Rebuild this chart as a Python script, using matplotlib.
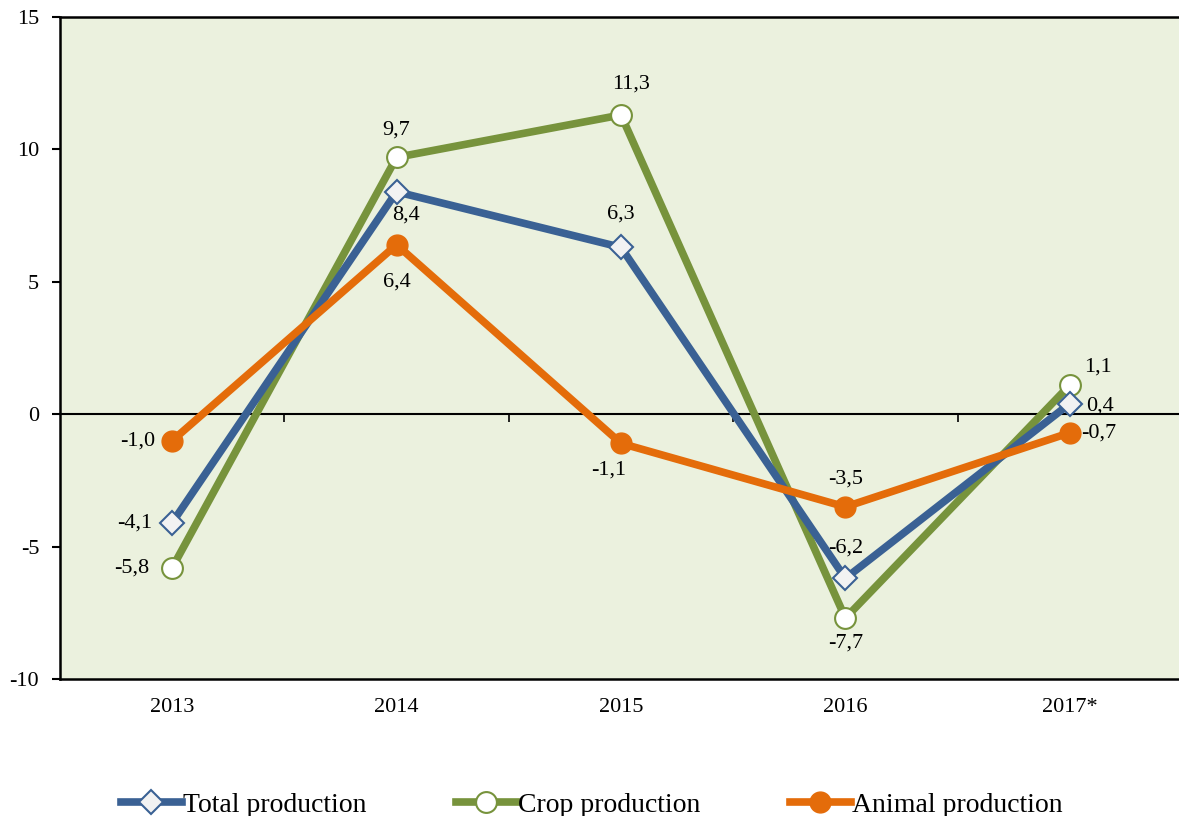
import matplotlib.pyplot as plt

plt.rcParams['font.family'] = ['Liberation Serif', 'DejaVu Serif']
plt.rcParams['axes.unicode_minus'] = False

# data
years = ["2013", "2014", "2015", "2016", "2017*"]
total = [-4.1, 8.4, 6.3, -6.2, 0.4]
crop = [-5.8, 9.7, 11.3, -7.7, 1.1]
animal = [-1.0, 6.4, -1.1, -3.5, -0.7]

# label offsets (points)
total_off = [(-27, 0), (7, -17), (0, 24), (0, 22), (22, -2)]
crop_off = [(-29, 0), (0, 20), (7, 22), (0, -18), (20, 13)]
animal_off = [(-25, 0), (0, -27), (-9, -19), (0, 20), (21, 0)]

blue = "#3A6194"
green = "#77933C"
orange = "#E46C0A"

fig = plt.figure(figsize=(11.79, 8.16), dpi=100)
ax = fig.add_axes([60 / 1179, 137 / 816, 1122 / 1179, 662 / 816])
ax.set_facecolor("#EBF1DE")

x = range(len(years))
ax.plot(x, total, color=blue, lw=5.5, marker="D", ms=12, mfc="#F2F2F2", mec=blue, mew=1.5,
        label="Total production", zorder=3)
ax.plot(x, crop, color=green, lw=5.5, marker="o", ms=15, mfc="white", mec=green, mew=1.5,
        label="Crop production", zorder=2)
ax.plot(x, animal, color=orange, lw=5.5, marker="o", ms=15, mfc=orange, mec=orange,
        label="Animal production", zorder=4)

for vals, offs in [(total, total_off), (crop, crop_off), (animal, animal_off)]:
    for i, (v, o) in enumerate(zip(vals, offs)):
        ax.annotate(f"{v:.1f}".replace(".", ","), (i, v), xytext=o, textcoords="offset points",
                    ha="center", va="center", fontsize=16, zorder=5)

ax.set_xlim(-0.5, 4.5)
ax.set_ylim(-10, 15)
ax.set_yticks(range(-10, 16, 5))
ax.set_xticks(list(x), years)
ax.tick_params(axis="x", length=0, pad=14, labelsize=16)
ax.tick_params(axis="y", length=6, width=1.5, labelsize=16, pad=9)
for s in ["left", "top", "bottom"]:
    ax.spines[s].set_linewidth(1.8)
ax.spines["right"].set_visible(False)

# zero line with category separators
sec = ax.secondary_xaxis(0, transform=ax.transData)
sec.set_xticks([0.5, 1.5, 2.5, 3.5], ["", "", "", ""])
sec.tick_params(length=6, width=1.2)
sec.spines["bottom"].set_linewidth(1.5)

ax.legend(loc="center", bbox_to_anchor=(0.474, -0.19), ncol=3, frameon=False,
          fontsize=20, handlelength=2.2, handletextpad=0.05, columnspacing=3.2)

fig.savefig("out.png", dpi=100)
